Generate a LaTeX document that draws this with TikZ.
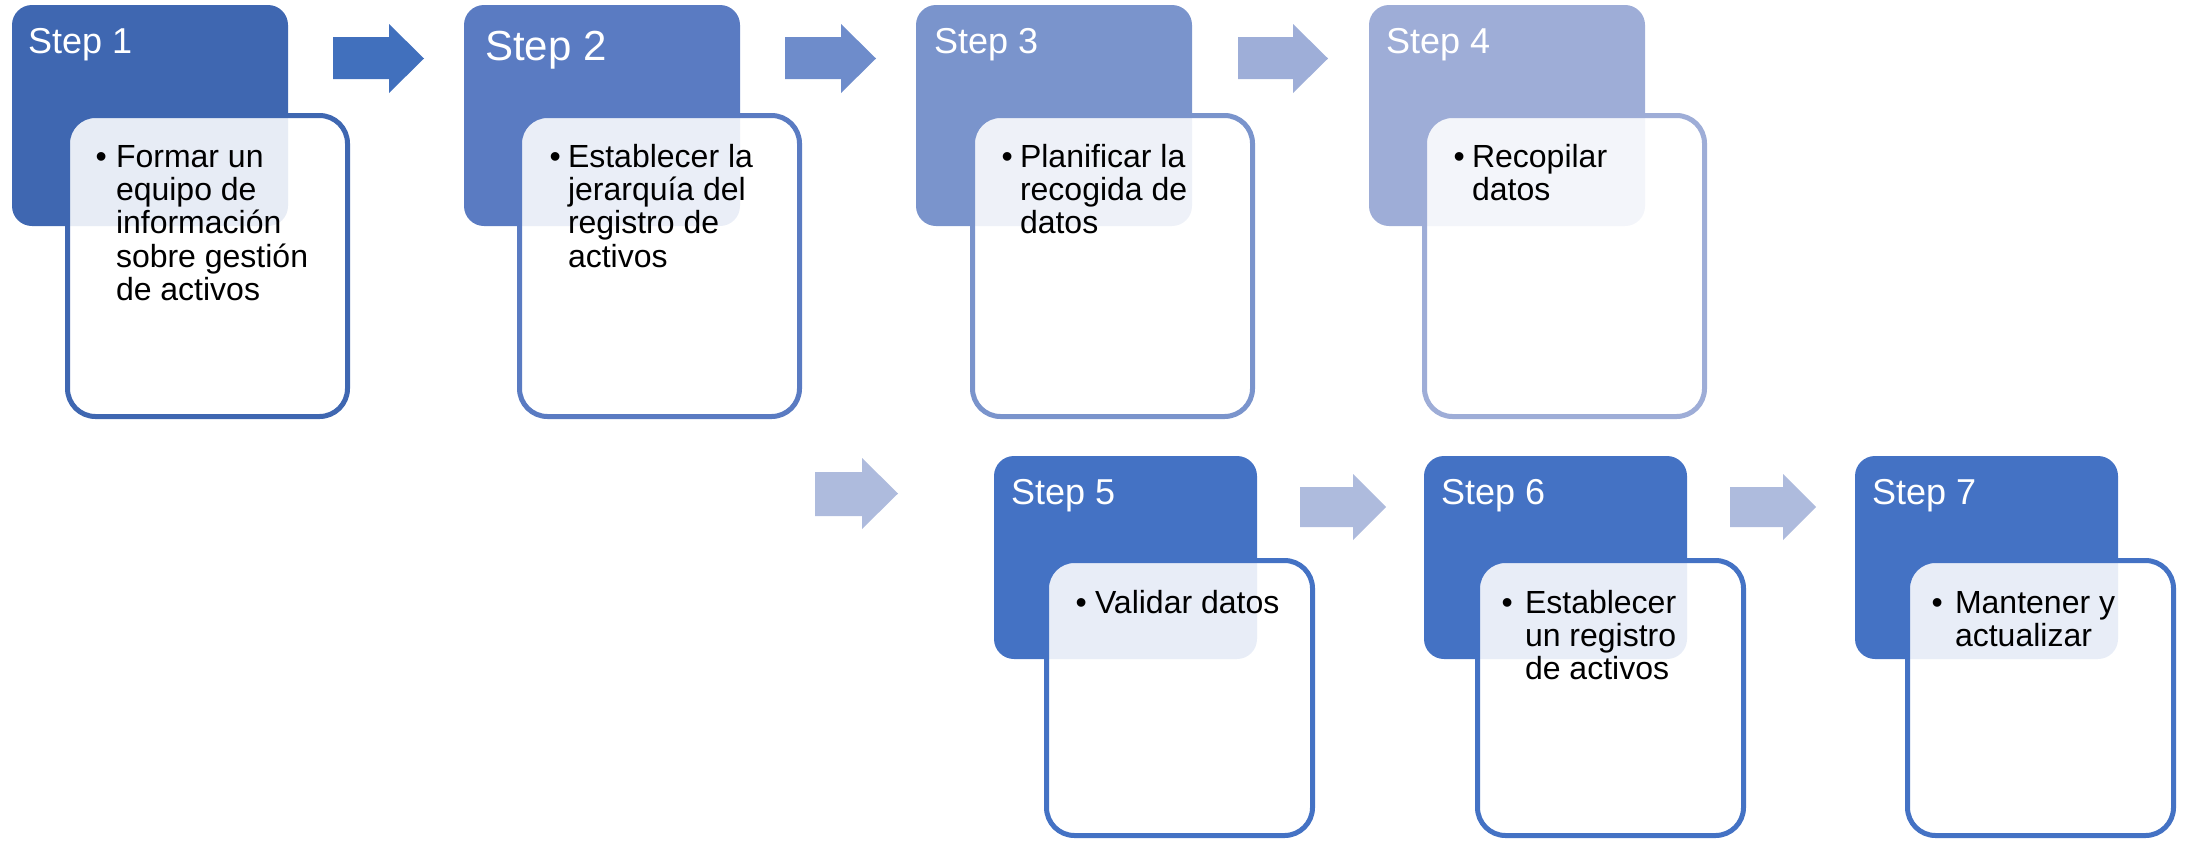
\documentclass[tikz,border=0pt]{standalone}
\usepackage{fontspec}
\setmainfont{Liberation Sans}
\definecolor{cA}{HTML}{3F67B1}
\definecolor{cB}{HTML}{5A7BC2}
\definecolor{cC}{HTML}{7A94CC}
\definecolor{cD}{HTML}{9EADD7}
\definecolor{cE}{HTML}{4472C4}
\definecolor{arA}{HTML}{4170BD}
\definecolor{arB}{HTML}{6E8CCB}
\definecolor{arC}{HTML}{9EAED8}
\definecolor{arD}{HTML}{AEBBDD}
\newcommand\bodytext[1]{\fontsize{32bp}{33.3bp}\selectfont\begin{tabular}[t]{@{}l@{}}#1\end{tabular}}
\tikzset{
 hdr/.style={draw=none, fill=#1, rectangle, rounded corners=20bp, inner sep=0pt, outer sep=0pt, anchor=north west},
 cbox/.style={draw=#1, line width=5bp, fill=white, fill opacity=0.88, rectangle, rounded corners=28bp, inner sep=0pt, outer sep=0pt, anchor=north west},
 title/.style={anchor=base west, inner sep=0pt, outer sep=0pt, text=white, font=\fontsize{36bp}{40bp}\selectfont},
 bigtitle/.style={title, font=\fontsize{42bp}{46bp}\selectfont},
 bul/.style={anchor=base west, inner sep=0pt, outer sep=0pt, font=\fontsize{32bp}{33.3bp}\selectfont},
 body/.style={anchor=base west, inner sep=0pt, outer sep=0pt},
 row1h/.style={minimum width=276bp, minimum height=221bp},
 row1c/.style={minimum width=280bp, minimum height=301bp},
 row2h/.style={minimum width=263bp, minimum height=203bp},
 row2c/.style={minimum width=266bp, minimum height=275bp}
}
\begin{document}
\begin{tikzpicture}[x=1bp,y=-1bp]
\useasboundingbox (0,0) rectangle (2188,840);
% block arrows
\fill[arA] (333,37) -- (389,37) -- (389,24) -- (424,58.5) -- (389,93) -- (389,79) -- (333,79) -- cycle;
\fill[arB] (785,37) -- (841,37) -- (841,24) -- (876,58.5) -- (841,93) -- (841,79) -- (785,79) -- cycle;
\fill[arC] (1238,37) -- (1293,37) -- (1293,24) -- (1328,58.5) -- (1293,93) -- (1293,79) -- (1238,79) -- cycle;
\fill[arD] (815,472) -- (862,472) -- (862,458) -- (898,493.5) -- (862,529) -- (862,516) -- (815,516) -- cycle;
\fill[arD] (1300,487) -- (1353,487) -- (1353,474) -- (1386,507) -- (1353,540) -- (1353,527) -- (1300,527) -- cycle;
\fill[arD] (1730,487) -- (1783,487) -- (1783,474) -- (1816,507) -- (1783,540) -- (1783,527) -- (1730,527) -- cycle;
% headers
\node[hdr=cA, row1h] (h1) at (12,5) {};
\node[hdr=cB, row1h] (h2) at (464,5) {};
\node[hdr=cC, row1h] (h3) at (916,5) {};
\node[hdr=cD, row1h] (h4) at (1369,5) {};
\node[hdr=cE, row2h] (h5) at (994,456) {};
\node[hdr=cE, row2h] (h6) at (1424,456) {};
\node[hdr=cE, row2h] (h7) at (1855,456) {};
% content boxes
\node[cbox=cA, row1c] (c1) at (67.5,115.5) {};
\node[cbox=cB, row1c] (c2) at (519.5,115.5) {};
\node[cbox=cC, row1c] (c3) at (972.5,115.5) {};
\node[cbox=cD, row1c] (c4) at (1424.5,115.5) {};
\node[cbox=cE, row2c] (c5) at (1046.5,560.5) {};
\node[cbox=cE, row2c] (c6) at (1477.5,560.5) {};
\node[cbox=cE, row2c] (c7) at (1907.5,560.5) {};
% titles
\node[title] (t1) at (28,53) {Step 1};
\node[bigtitle] (t2) at (485,60) {Step 2};
\node[title] (t3) at (934,53) {Step 3};
\node[title] (t4) at (1386,53) {Step 4};
\node[title] (t5) at (1011,504) {Step 5};
\node[title] (t6) at (1441,504) {Step 6};
\node[title] (t7) at (1872,504) {Step 7};
% bullets
\node[bul] (b1) at (95.5,167) {\textbullet};
\node[bul] (b2) at (549.5,167) {\textbullet};
\node[bul] (b3) at (1001.5,167) {\textbullet};
\node[bul] (b4) at (1453.5,167) {\textbullet};
\node[bul] (b5) at (1075.5,613) {\textbullet};
\node[bul] (b6) at (1501.5,613) {\textbullet};
\node[bul] (b7) at (1931.5,613) {\textbullet};
% body texts
\node[body] (x1) at (116,167) {\bodytext{Formar un\\equipo de\\información\\sobre gestión\\de activos}};
\node[body] (x2) at (568,167) {\bodytext{Establecer la\\jerarquía del\\registro de\\activos}};
\node[body] (x3) at (1020,167) {\bodytext{Planificar la\\recogida de\\datos}};
\node[body] (x4) at (1472,167) {\bodytext{Recopilar\\datos}};
\node[body] (x5) at (1095,613) {\bodytext{Validar datos}};
\node[body] (x6) at (1525,613) {\bodytext{Establecer\\un registro\\de activos}};
\node[body] (x7) at (1955,613) {\bodytext{Mantener y\\actualizar}};
\end{tikzpicture}
\end{document}
